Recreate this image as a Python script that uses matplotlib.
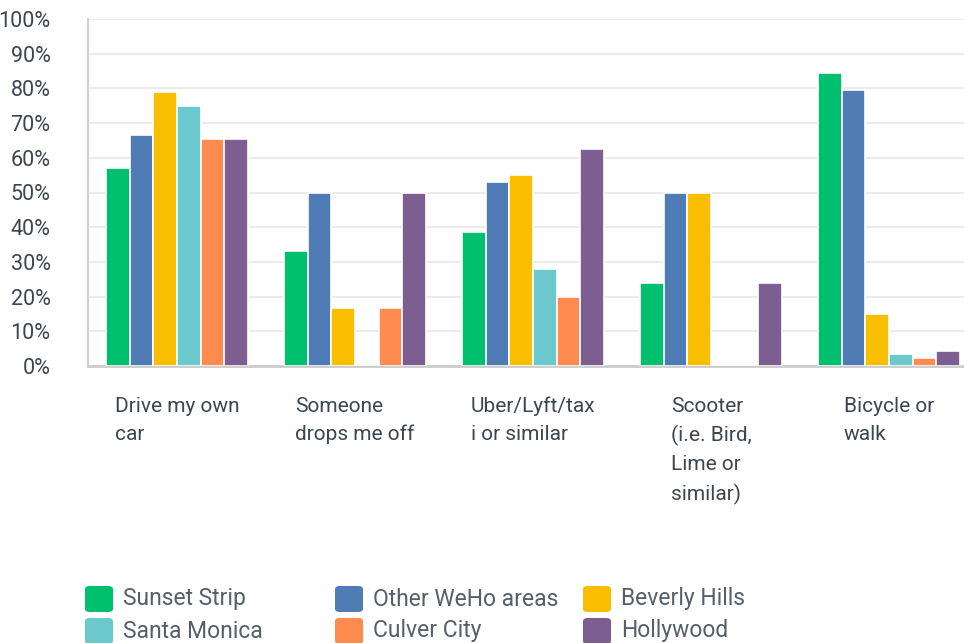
import numpy as np
import matplotlib
matplotlib.use("Agg")
import matplotlib.pyplot as plt
from matplotlib.patches import FancyBboxPatch

# -----------------------------
# DATA
# -----------------------------
categories = ["Drive my own\ncar", "Someone\ndrops me off", "Uber/Lyft/tax\ni or similar",
              "Scooter\n(i.e. Bird,\nLime or\nsimilar)", "Bicycle or\nwalk"]
series = ["Sunset Strip", "Other WeHo areas", "Beverly Hills",
          "Santa Monica", "Culver City", "Hollywood"]
sunset_strip = [0.57, 0.33, 0.385, 0.24, 0.845]
other_weho = [0.667, 0.50, 0.53, 0.50, 0.795]
beverly_hills = [0.79, 0.167, 0.55, 0.50, 0.15]
santa_monica = [0.75, 0.0, 0.28, 0.0, 0.035]
culver_city = [0.655, 0.167, 0.20, 0.0, 0.023]
hollywood = [0.655, 0.50, 0.625, 0.24, 0.043]
colors = ["#00BF6F", "#507CB6", "#F9BE00", "#6BC8CD", "#FF8B4F", "#7D5E90"]

values = [sunset_strip, other_weho, beverly_hills, santa_monica, culver_city, hollywood]

plt.rcParams['font.family'] = ['Roboto', 'DejaVu Sans']

fig = plt.figure(figsize=(9.64, 6.43), dpi=100)
ax = fig.add_axes([88/964, 277/643, 890/964, 347/643])

x = np.arange(len(categories))
group_w = 0.8
bar_w = group_w / len(series)
for i, (name, vals) in enumerate(zip(series, values)):
    offs = -group_w/2 + bar_w*(i + 0.5)
    ax.bar(x + offs, vals, width=bar_w, color=colors[i], edgecolor="white",
           linewidth=1.2, zorder=3)

ax.set_xlim(-0.5, len(categories) - 0.5)
ax.set_ylim(0, 1.0)
ax.set_yticks(np.arange(0, 1.01, 0.1))
ax.set_yticklabels([f"{int(round(v*100))}%" for v in np.arange(0, 1.01, 0.1)],
                   fontsize=15.5, color="#3c4650")
ax.yaxis.grid(True, color="#ebebeb", linewidth=1.5, zorder=0)
ax.set_axisbelow(True)
ax.tick_params(axis="y", length=0, pad=27)
ax.tick_params(axis="x", length=0, pad=22)
ax.set_xticks(x)
ax.set_xticklabels(categories, fontsize=15, color="#3c4650", ha="center",
                   multialignment="left", linespacing=1.6, va="top")
for s in ["top", "right"]:
    ax.spines[s].set_visible(False)
ax.spines["left"].set_color("#d0d0d0")
ax.spines["left"].set_linewidth(1.5)
ax.spines["bottom"].set_color("#cccccc")
ax.spines["bottom"].set_linewidth(2)
for t in ax.get_yticklabels():
    t.set_ha("right")

# Legend (drawn by hand to match the layout)
col_x = [85, 335, 583]
row_y = [599, 631]
for i, name in enumerate(series):
    cx = col_x[i % 3]
    cy = row_y[i // 3]
    box = FancyBboxPatch(((cx)/964, (643 - cy - 13)/643), 28/964, 26/643,
                         boxstyle="round,pad=0,rounding_size=0.005",
                         transform=fig.transFigure, facecolor=colors[i],
                         edgecolor="none")
    fig.patches.append(box)
    fig.text((cx + 38)/964, (643 - cy)/643, name, fontsize=16.5, color="#555f69",
             va="center", ha="left")

fig.savefig("out.png", dpi=100)
